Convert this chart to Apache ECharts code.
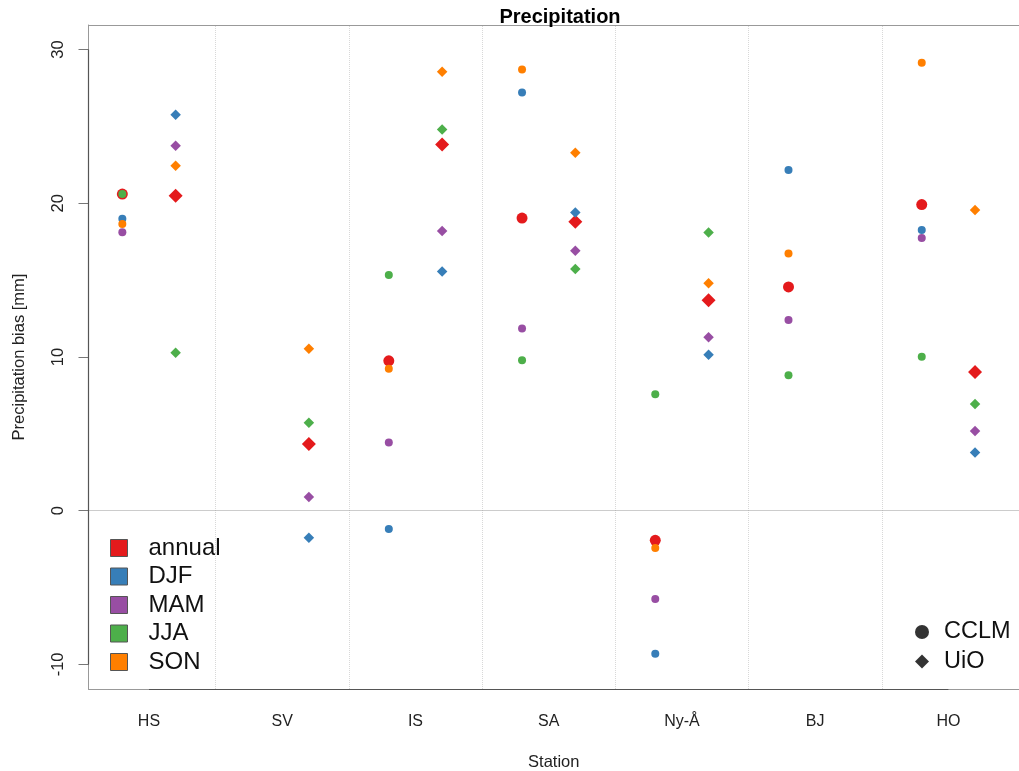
<!DOCTYPE html>
<html>
<head>
<meta charset="utf-8">
<script src="https://cdn.jsdelivr.net/npm/echarts@6/dist/echarts.min.js"></script>
<style>html,body{margin:0;padding:0;background:#fff}#c{width:1019px;height:771px}</style>
</head>
<body>
<div id="c"></div>
<script>
const stations = ['HS','SV','IS','SA','Ny-Å','BJ','HO'];
const seasons = ['annual','DJF','MAM','JJA','SON'];
const yTicks = [-10, 0, 10, 20, 30];
// CCLM (circles)
const cclmAnnual = [20.6, null, 9.75, 19.04, -1.93, 14.56, 19.92];
const cclmDJF    = [18.99, null, -1.19, 27.21, -9.31, 22.16, 18.27];
const cclmMAM    = [18.12, null, 4.43, 11.85, -5.75, 12.40, 17.75];
const cclmJJA    = [20.6, null, 15.34, 9.79, 7.58, 8.81, 10.01];
const cclmSON    = [18.65, null, 9.23, 28.71, -2.43, 16.73, 29.15];
// UiO (diamonds)
const uioAnnual = [20.49, 4.34, 23.83, 18.80, 13.70, null, 9.03];
const uioDJF    = [25.76, -1.76, 15.56, 19.40, 10.14, null, 3.78];
const uioMAM    = [23.74, 0.89, 18.19, 16.91, 11.29, null, 5.19];
const uioJJA    = [10.27, 5.73, 24.80, 15.72, 18.10, null, 6.95];
const uioSON    = [22.44, 10.53, 28.56, 23.29, 14.80, null, 19.56];

const cclm = [cclmAnnual, cclmDJF, cclmMAM, cclmJJA, cclmSON];
const uio = [uioAnnual, uioDJF, uioMAM, uioJJA, uioSON];
const colors = ['#E41A1C','#377EB8','#984EA3','#4DAF4A','#FF7F00'];

const xMin = -0.454, xMax = 6.53, yMin = -11.6, yMax = 31.6;
const FONT = '"Liberation Sans", Arial, Helvetica, sans-serif';

const series = [];
series.push({
  type: 'scatter', name: '_deco', data: [], silent: true, z: 1, clip: false,
  markLine: {
    silent: true, symbol: 'none', label: {show: false}, animation: false,
    data: [0.5,1.5,2.5,3.5,4.5,5.5].map(v => ({xAxis: v, lineStyle: {color: '#d8d8d8', type: 'dotted', width: 1}}))
      .concat([{yAxis: 0, lineStyle: {color: '#999', type: 'dotted', width: 1}}])
      .concat([
        [{coord: [0, yMin], lineStyle: {color: '#555', type: 'solid', width: 1.2}}, {coord: [stations.length - 1, yMin]}],
        [{coord: [xMin, yTicks[0]], lineStyle: {color: '#555', type: 'solid', width: 1.2}}, {coord: [xMin, yTicks[yTicks.length-1]]}]
      ])
  }
});
seasons.forEach((s, k) => {
  const data = [];
  cclm[k].forEach((v, i) => { if (v != null) data.push({value: [i - 0.2, v], symbol: 'circle', symbolSize: k === 0 ? 11 : 8}); });
  uio[k].forEach((v, i) => { if (v != null) data.push({value: [i + 0.2, v], symbol: 'diamond', symbolSize: k === 0 ? 14 : 10.5}); });
  series.push({type: 'scatter', name: s, data: data, itemStyle: {color: colors[k], opacity: 1}, z: 3 + k, animation: false});
});
series.push({type: 'scatter', name: 'CCLM', data: [], itemStyle: {color: '#000'}});
series.push({type: 'scatter', name: 'UiO', data: [], itemStyle: {color: '#000'}});

const chart = echarts.init(document.getElementById('c'), null, {renderer: 'canvas'});
chart.setOption({
  animation: false,
  backgroundColor: '#fff',
  textStyle: {fontFamily: FONT},
  title: {text: 'Precipitation', left: 555, textAlign: 'center', top: 2,
    textStyle: {fontFamily: FONT, fontSize: 20, fontWeight: 'bold', color: '#000'}},
  grid: {left: 88.5, right: 0, top: 25, bottom: 82, containLabel: false, outerBoundsMode: 'none'},
  legend: [
    {
      orient: 'vertical', left: 105, top: 531, itemWidth: 17, itemHeight: 17, itemGap: 4.5,
      icon: 'rect', selectedMode: false,
      data: seasons.map(s => ({name: s, icon: 'rect'})),
      itemStyle: {borderColor: '#555', borderWidth: 1},
      textStyle: {fontFamily: FONT, fontSize: 24, color: '#111', lineHeight: 24, padding: [0,0,0,16]}
    },
    {
      orient: 'vertical', left: 910, top: 615, itemWidth: 14, itemHeight: 14, itemGap: 5.5,
      selectedMode: false,
      data: [{name: 'CCLM', icon: 'circle', itemStyle: {color: '#000'}}, {name: 'UiO', icon: 'diamond', itemStyle: {color: '#000'}}],
      textStyle: {fontFamily: FONT, fontSize: 23.5, color: '#111', lineHeight: 24, padding: [0,0,0,10]}
    }
  ],
  xAxis: [
    {
      type: 'value', min: xMin, max: xMax, position: 'bottom',
      name: 'Station', nameLocation: 'middle', nameGap: 65,
      nameTextStyle: {fontFamily: FONT, fontSize: 16.5, color: '#222'},
      axisLine: {show: true, onZero: false, lineStyle: {color: '#999', width: 1}},
      axisTick: {show: false},
      splitLine: {show: false},
      axisLabel: {customValues: stations.map((s, i) => i), formatter: v => stations[Math.round(v)],
        fontFamily: FONT, fontSize: 16, color: '#222', margin: 25}
    },
    {
      type: 'value', min: xMin, max: xMax, position: 'top',
      axisLine: {show: true, onZero: false, lineStyle: {color: '#999', width: 1}},
      axisTick: {show: false}, axisLabel: {show: false}, splitLine: {show: false}
    }
  ],
  yAxis: {
    type: 'value', min: yMin, max: yMax,
    name: 'Precipitation bias [mm]', nameLocation: 'middle', nameGap: 61,
    nameTextStyle: {fontFamily: FONT, fontSize: 16.5, color: '#222'},
    axisLine: {show: true, onZero: false, lineStyle: {color: '#999', width: 1}},
    axisTick: {show: true, customValues: yTicks, length: 10, lineStyle: {color: '#777'}},
    splitLine: {show: false},
    axisLabel: {customValues: yTicks, rotate: 90, fontFamily: FONT, fontSize: 16.5, color: '#222', margin: 22}
  },
  series: series
});
</script>
</body>
</html>
